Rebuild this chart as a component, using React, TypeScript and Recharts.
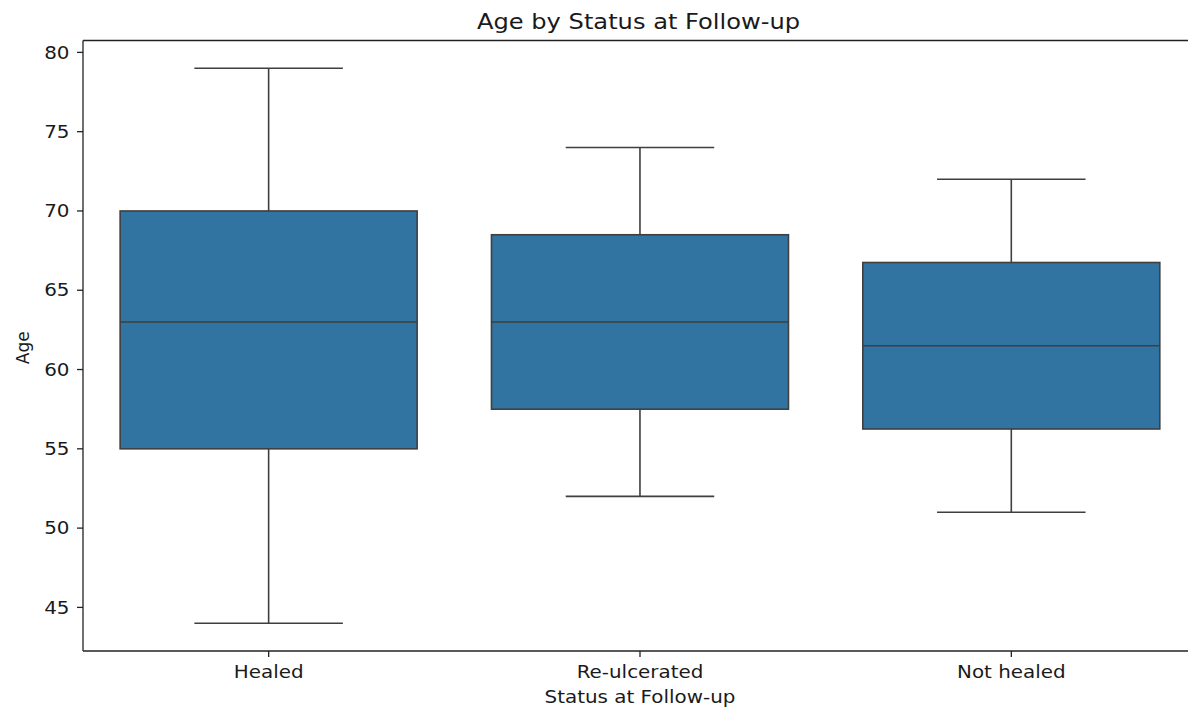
import React from 'react';
import { ComposedChart, Bar, XAxis, YAxis, ReferenceLine } from 'recharts';

const categories = ['Healed', 'Re-ulcerated', 'Not healed'];
const whiskerLow = [44, 52, 51];
const q1Values = [55, 57.5, 56.25];
const medianValues = [63, 63, 61.5];
const q3Values = [70, 68.5, 66.75];
const whiskerHigh = [79, 74, 72];
const yTicks = [45, 50, 55, 60, 65, 70, 75, 80];
const yDomain: [number, number] = [42.25, 80.75];

const title = 'Age by Status at Follow-up';
const xLabel = 'Status at Follow-up';
const yLabel = 'Age';

const data = categories.map((name, i) => ({
  name,
  range: [whiskerLow[i], whiskerHigh[i]],
  low: whiskerLow[i],
  q1: q1Values[i],
  median: medianValues[i],
  q3: q3Values[i],
  high: whiskerHigh[i],
}));

const FONT = '"DejaVu Sans", Verdana, sans-serif';
const TEXT = '#1a1a1a';
const SPINE = '#222222';
const LINE = '#3f3f3f';
const FILL = '#3274a1';
const SX = 1.17;

function BoxShape(props: any) {
  const { x, y, width, height, payload } = props;
  if (!payload) return null;
  const top = Math.min(y, y + height);
  const h = Math.abs(height);
  const { low, q1, median, q3, high } = payload;
  const k = h / (high - low);
  const Y = (v: number) => top + (high - v) * k;
  const cx = x + width / 2;
  const capHalf = width / 4;
  const sw = 1.6;
  return (
    <g>
      <line x1={cx} x2={cx} y1={Y(q3)} y2={Y(high)} stroke={LINE} strokeWidth={sw} />
      <line x1={cx} x2={cx} y1={Y(q1)} y2={Y(low)} stroke={LINE} strokeWidth={sw} />
      <line x1={cx - capHalf} x2={cx + capHalf} y1={Y(high)} y2={Y(high)} stroke={LINE} strokeWidth={sw} />
      <line x1={cx - capHalf} x2={cx + capHalf} y1={Y(low)} y2={Y(low)} stroke={LINE} strokeWidth={sw} />
      <rect x={x} y={Y(q3)} width={width} height={Y(q1) - Y(q3)} fill={FILL} stroke={LINE} strokeWidth={sw} />
      <line x1={x} x2={x + width} y1={Y(median)} y2={Y(median)} stroke={LINE} strokeWidth={sw} />
    </g>
  );
}

function XTick(props: any) {
  const { x, y, payload } = props;
  return (
    <text
      transform={`translate(${x},${y + 21}) scale(${SX},1)`}
      textAnchor="middle"
      fontFamily={FONT}
      fontSize={17}
      fill={TEXT}
    >
      {payload.value}
    </text>
  );
}

function YTick(props: any) {
  const { x, y, payload } = props;
  return (
    <text
      transform={`translate(${x},${y + 6.2}) scale(${SX},1)`}
      textAnchor="end"
      fontFamily={FONT}
      fontSize={17}
      fill={TEXT}
    >
      {payload.value}
    </text>
  );
}

function XLabelContent(props: any) {
  const vb = props.viewBox || {};
  const cx = vb.x + vb.width / 2;
  return (
    <text
      transform={`translate(${cx},${vb.y + 52}) scale(${SX},1)`}
      textAnchor="middle"
      fontFamily={FONT}
      fontSize={17}
      fill={TEXT}
    >
      {xLabel}
    </text>
  );
}

function YLabelContent(props: any) {
  const vb = props.viewBox || {};
  const cy = vb.y + vb.height / 2 + 2;
  return (
    <text
      transform={`translate(${vb.x + 29},${cy}) rotate(-90)`}
      textAnchor="middle"
      fontFamily={FONT}
      fontSize={17}
      fill={TEXT}
    >
      {yLabel}
    </text>
  );
}

export default function App() {
  return (
    <div style={{ position: 'absolute', left: 0, top: 0, width: 1188, height: 713, overflow: 'hidden', background: '#fff' }}>
      <svg
        width={1188}
        height={40}
        style={{ position: 'absolute', left: 0, top: 0, pointerEvents: 'none' }}
      >
        <text
          transform={`translate(638.5,29) scale(1.15,1)`}
          textAnchor="middle"
          fontFamily={FONT}
          fontSize={21}
          fill={TEXT}
        >
          {title}
        </text>
      </svg>
      <ComposedChart
        width={1197}
        height={713}
        data={data}
        margin={{ top: 40.5, right: 0, bottom: 0, left: 0 }}
        barCategoryGap="10%"
      >
        <XAxis
          dataKey="name"
          type="category"
          height={62}
          tickSize={6}
          tickMargin={0}
          tick={<XTick />}
          axisLine={{ stroke: SPINE, strokeWidth: 1.3 }}
          tickLine={{ stroke: SPINE, strokeWidth: 1.3 }}
          label={{ content: <XLabelContent /> } as any}
          interval={0}
        />
        <YAxis
          type="number"
          domain={yDomain}
          ticks={yTicks}
          allowDataOverflow
          width={83}
          tickSize={6}
          tickMargin={7.5}
          tick={<YTick />}
          axisLine={{ stroke: SPINE, strokeWidth: 1.3 }}
          tickLine={{ stroke: SPINE, strokeWidth: 1.3 }}
          label={{ content: <YLabelContent /> } as any}
        />
        <ReferenceLine y={yDomain[1]} stroke={SPINE} strokeWidth={1.3} ifOverflow="visible" />
        <Bar dataKey="range" shape={<BoxShape />} isAnimationActive={false} />
      </ComposedChart>
    </div>
  );
}
